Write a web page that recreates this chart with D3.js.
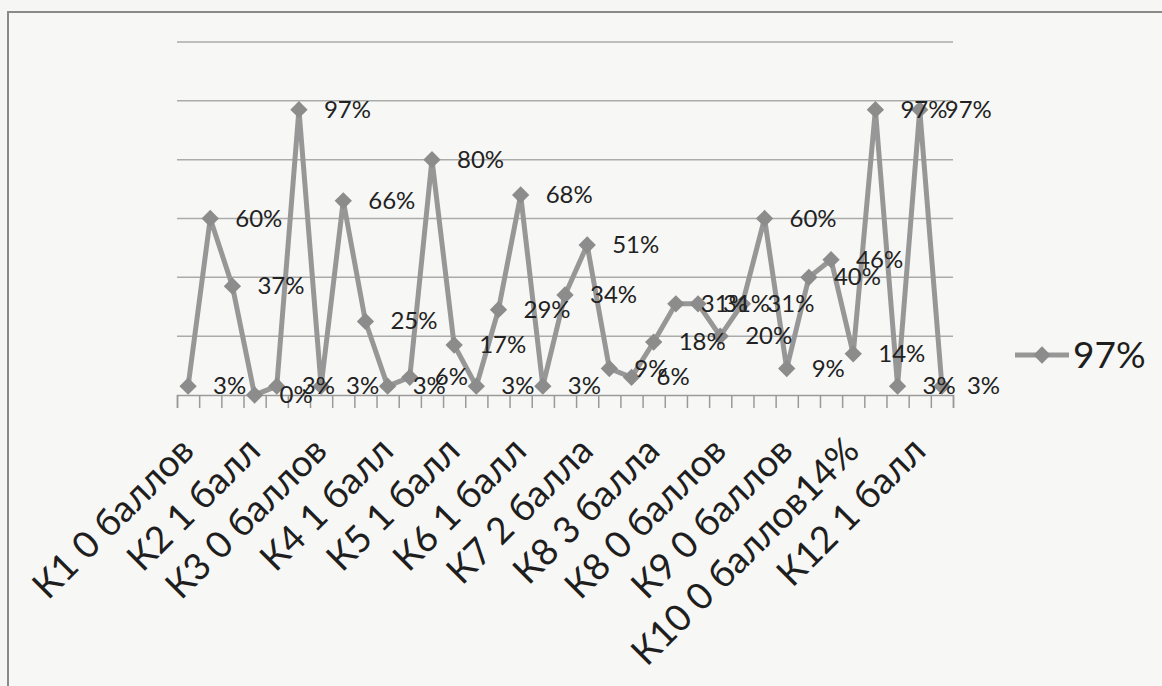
<!DOCTYPE html>
<html>
<head>
<meta charset="utf-8">
<script src="https://cdn.jsdelivr.net/npm/d3@7"></script>
<style>
  body { margin: 0; background: #f6f6f4; }
  svg { display: block; }
</style>
</head>
<body>
<div id="chart"></div>
<script>
// values, one per category (35 categories)
const values = [3, 60, 37, 0, 3, 97, 3, 66, 25, 3, 6, 80, 17, 3, 29, 68, 3, 34,
  51, 9, 6, 18, 31, 31, 20, 31, 60, 9, 40, 46, 14, 97, 3, 97, 3];
// only every third category carries a label on the axis
const tickLabels = ["К1 0 баллов", "К2 1 балл", "К3 0 баллов", "К4 1 балл",
  "К5 1 балл", "К6 1 балл", "К7 2 балла", "К8 3 балла", "К8 0 баллов",
  "К9 0 баллов", "К10 0 баллов14%", "К12 1 балл"];
const labelStep = 3;
const seriesName = "97%";
const gridValues = [20, 40, 60, 80, 100, 120];

const width = 1162, height = 686;
const plot = { left: 177, right: 953, top: 42, bottom: 395 };

const svg = d3.select("#chart")
  .append("svg")
  .attr("width", width)
  .attr("height", height);

// chart frame (runs off the right and bottom of the scan)
svg.append("rect")
  .attr("x", 8).attr("y", 12)
  .attr("width", 1200).attr("height", 700)
  .attr("fill", "#f7f7f5")
  .attr("stroke", "#8a8a8a")
  .attr("stroke-width", 2);

const x = d3.scaleBand()
  .domain(d3.range(values.length))
  .range([plot.left, plot.right]);

const xEdge = d3.scaleLinear()
  .domain([0, values.length])
  .range([plot.left, plot.right]);

const y = d3.scaleLinear()
  .domain([0, 120])
  .range([plot.bottom, plot.top]);

const cx = i => x(i) + x.bandwidth() / 2;

// gridlines
svg.append("g")
  .selectAll("line")
  .data(gridValues)
  .join("line")
  .attr("x1", plot.left)
  .attr("x2", plot.right)
  .attr("y1", d => y(d))
  .attr("y2", d => y(d))
  .attr("stroke", "#ababab")
  .attr("stroke-width", 1.5);

// category axis with ticks between categories
const xAxis = svg.append("g")
  .attr("transform", `translate(0, ${plot.bottom})`)
  .call(d3.axisBottom(xEdge)
    .tickValues(d3.range(values.length + 1))
    .tickSize(13)
    .tickFormat(""));
xAxis.select(".domain").attr("stroke", "#9a9a9a").attr("stroke-width", 1.5);
xAxis.selectAll(".tick line").attr("stroke", "#9a9a9a").attr("stroke-width", 1.5);

// rotated category labels
svg.append("g")
  .selectAll("text")
  .data(tickLabels)
  .join("text")
  .attr("transform", (d, k) => `translate(${cx(k * labelStep) + 8}, ${plot.bottom + 58}) rotate(-45)`)
  .attr("text-anchor", "end")
  .attr("font-family", "Lato, 'Open Sans', sans-serif")
  .attr("font-size", 37)
  .attr("fill", "#1e1e1e")
  .text(d => d);

// series line
const line = d3.line()
  .x((d, i) => cx(i))
  .y(d => y(d));

svg.append("path")
  .datum(values)
  .attr("d", line)
  .attr("fill", "none")
  .attr("stroke", "#979797")
  .attr("stroke-width", 5)
  .attr("stroke-linejoin", "miter");

const diamond = d3.symbol(d3.symbolSquare, 150);

svg.append("g")
  .selectAll("path")
  .data(values)
  .join("path")
  .attr("d", diamond)
  .attr("transform", (d, i) => `translate(${cx(i)}, ${y(d)}) rotate(45)`)
  .attr("fill", "#8c8c8c");

// data labels, right of each point
svg.append("g")
  .selectAll("text")
  .data(values)
  .join("text")
  .attr("x", (d, i) => cx(i) + 25)
  .attr("y", d => y(d) + 8)
  .attr("font-family", "Lato, 'Open Sans', sans-serif")
  .attr("font-size", 24)
  .attr("fill", "#222")
  .text(d => d + "%");

// legend
const legend = svg.append("g").attr("transform", "translate(1015, 355)");
legend.append("line")
  .attr("x1", 0).attr("x2", 54)
  .attr("stroke", "#979797").attr("stroke-width", 5);
legend.append("path")
  .attr("d", diamond)
  .attr("transform", "translate(27, 0) rotate(45)")
  .attr("fill", "#8c8c8c");
legend.append("text")
  .attr("x", 58)
  .attr("y", 13)
  .attr("font-family", "Lato, 'Open Sans', sans-serif")
  .attr("font-size", 37)
  .attr("fill", "#1e1e1e")
  .text(seriesName);
</script>
</body>
</html>
